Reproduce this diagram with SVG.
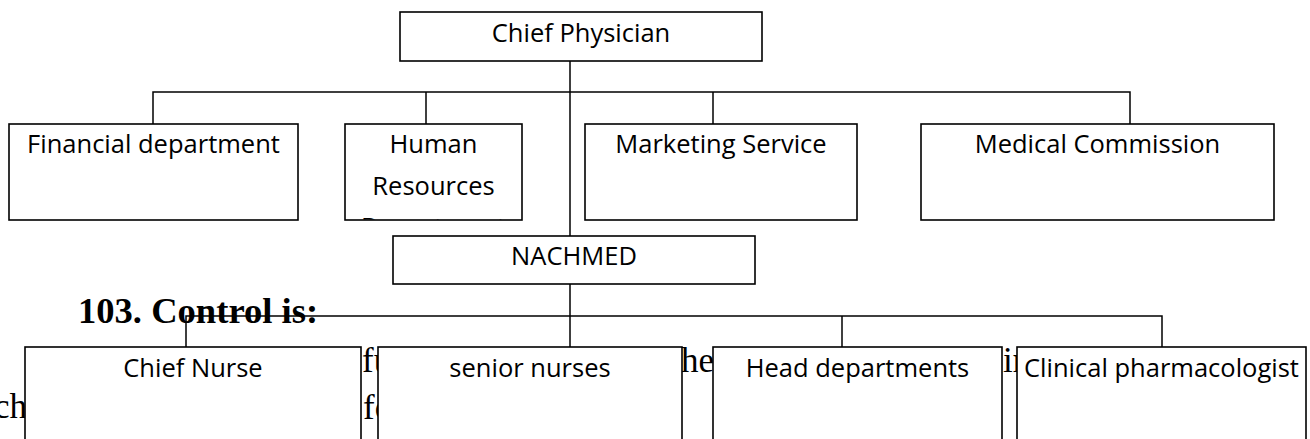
<svg xmlns="http://www.w3.org/2000/svg" width="1310" height="439" viewBox="0 0 1310 439">
  <style>
    .box { fill: #ffffff; stroke: #000000; stroke-width: 1.6; }
    .link { fill: none; stroke: #000000; stroke-width: 1.5; }
    .label { font-family: "Open Sans", "Liberation Sans", sans-serif; font-size: 25.5px; fill: #000000; text-anchor: middle; }
    .doc { font-family: "Liberation Serif", "Times New Roman", serif; font-size: 35px; fill: #000000; }
    .heading { font-family: "Liberation Serif", "Times New Roman", serif; font-size: 36.6px; font-weight: bold; fill: #000000; }
  </style>
  <defs>
    <clipPath id="hr-clip">
      <rect x="345" y="124" width="177" height="95.5"/>
    </clipPath>
  </defs>

  <!-- page text lying underneath the chart -->
  <g id="page-text">
    <text class="heading" x="78" y="323">103. Control is:</text>
    <text class="doc" x="362" y="372">fu</text>
    <text class="doc" x="681" y="372">he</text>
    <text class="doc" x="1003" y="372">ir</text>
    <text class="doc" x="-6" y="418">ch</text>
    <text class="doc" x="363" y="419">fo</text>
  </g>

  <!-- connectors -->
  <g id="connectors">
    <!-- Chief Physician down to NACHMED -->
    <path class="link" d="M570 61 V236"/>
    <!-- upper bus -->
    <path class="link" d="M153 124 V92 H1130 V124"/>
    <path class="link" d="M426 92 V124"/>
    <path class="link" d="M713 92 V124"/>
    <!-- NACHMED to lower bus -->
    <path class="link" d="M570 284 V347"/>
    <path class="link" d="M186 347 V316 H1162 V347"/>
    <path class="link" d="M842 316 V347"/>
  </g>

  <!-- top level -->
  <g id="chief-physician">
    <rect class="box" x="400" y="12" width="362" height="49"/>
    <text class="label" x="581" y="42">Chief Physician</text>
  </g>

  <!-- first tier -->
  <g id="financial-department">
    <rect class="box" x="9" y="124" width="289" height="96"/>
    <text class="label" x="153.5" y="153">Financial department</text>
  </g>
  <g id="human-resources">
    <rect class="box" x="345" y="124" width="177" height="96"/>
    <g clip-path="url(#hr-clip)">
      <text class="label" x="433.5" y="153">Human</text>
      <text class="label" x="433.5" y="195">Resources</text>
      <text class="label" x="433.5" y="236">Department</text>
    </g>
  </g>
  <g id="marketing-service">
    <rect class="box" x="585" y="124" width="272" height="96"/>
    <text class="label" x="721" y="153">Marketing Service</text>
  </g>
  <g id="medical-commission">
    <rect class="box" x="921" y="124" width="353" height="96"/>
    <text class="label" x="1097.5" y="153">Medical Commission</text>
  </g>

  <!-- deputy -->
  <g id="nachmed">
    <rect class="box" x="393" y="236" width="362" height="48"/>
    <text class="label" x="574" y="265">NACHMED</text>
  </g>

  <!-- second tier -->
  <g id="chief-nurse">
    <rect class="box" x="25" y="347" width="336" height="120"/>
    <text class="label" x="193" y="377">Chief Nurse</text>
  </g>
  <g id="senior-nurses">
    <rect class="box" x="378" y="347" width="304" height="120"/>
    <text class="label" x="530" y="377">senior nurses</text>
  </g>
  <g id="head-departments">
    <rect class="box" x="713" y="347" width="289" height="120"/>
    <text class="label" x="857.5" y="377">Head departments</text>
  </g>
  <g id="clinical-pharmacologist">
    <rect class="box" x="1017" y="347" width="289" height="120"/>
    <text class="label" x="1161.5" y="377">Clinical pharmacologist</text>
  </g>
</svg>
